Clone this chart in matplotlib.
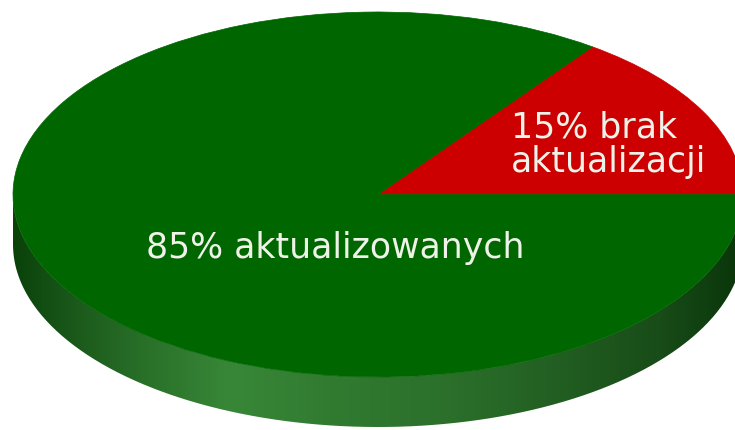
import numpy as np
import matplotlib
matplotlib.use('Agg')
import matplotlib.pyplot as plt
from matplotlib.patches import Wedge, PathPatch
from matplotlib.path import Path
from matplotlib.transforms import Affine2D
from matplotlib.colors import LinearSegmentedColormap

# data
shares = [15, 85]
labels = ['15% brak\naktualizacji', '85% aktualizowanych']
colors = ['#cc0000', '#006600']

# figure in pixel coordinates
fig = plt.figure(figsize=(7.35, 4.3), dpi=100)
ax = fig.add_axes([0, 0, 1, 1])
ax.axis('off')

cx, cy, rx, ry, depth = 378, 194.5, 365, 182.5, 50
to_screen = Affine2D().scale(rx, -ry).translate(cx, cy) + ax.transData

# side of the disc (front half), shaded with a horizontal gradient
t = np.linspace(np.pi, 2 * np.pi, 300)
top = np.column_stack([np.cos(t), np.sin(t)])
bot = top[::-1] - [0, depth / ry]
side = PathPatch(Path(np.vstack([top, bot, top[:1]])), transform=to_screen,
                 facecolor='none', edgecolor='none')
ax.add_patch(side)

stops = [(13, '#0a420a'), (70, '#1a581a'), (150, '#2a722a'), (230, '#388738'),
         (330, '#317b31'), (450, '#2b6f2b'), (560, '#225e22'), (660, '#184c18'),
         (743, '#0a350a')]
x0, x1 = cx - rx, cx + rx
cmap = LinearSegmentedColormap.from_list(
    'side', [((x - x0) / (x1 - x0), c) for x, c in stops])
grad = np.linspace(0, 1, 512)[None, :]
im = ax.imshow(grad, cmap=cmap, aspect='auto', extent=[x0, x1, 430, 150],
               interpolation='bilinear')
im.set_clip_path(side)

# top face
start = 0
total = sum(shares)
for share, col in zip(shares, colors):
    end = start + share / total * 360
    ax.add_patch(Wedge((0, 0), 1, start, end, transform=to_screen,
                       facecolor=col, edgecolor=col, lw=0.5))
    start = end

# labels
txt = dict(color='#eef2e8', fontsize=25, family='DejaVu Sans',
           ha='left', va='baseline')
for i, line in enumerate(labels[0].split('\n')):
    ax.text(511, 137 + 35 * i, line, **txt)
ax.text(146, 258, labels[1], **txt)

ax.set_xlim(0, 735)
ax.set_ylim(430, 0)
fig.savefig('out.png', dpi=100)
